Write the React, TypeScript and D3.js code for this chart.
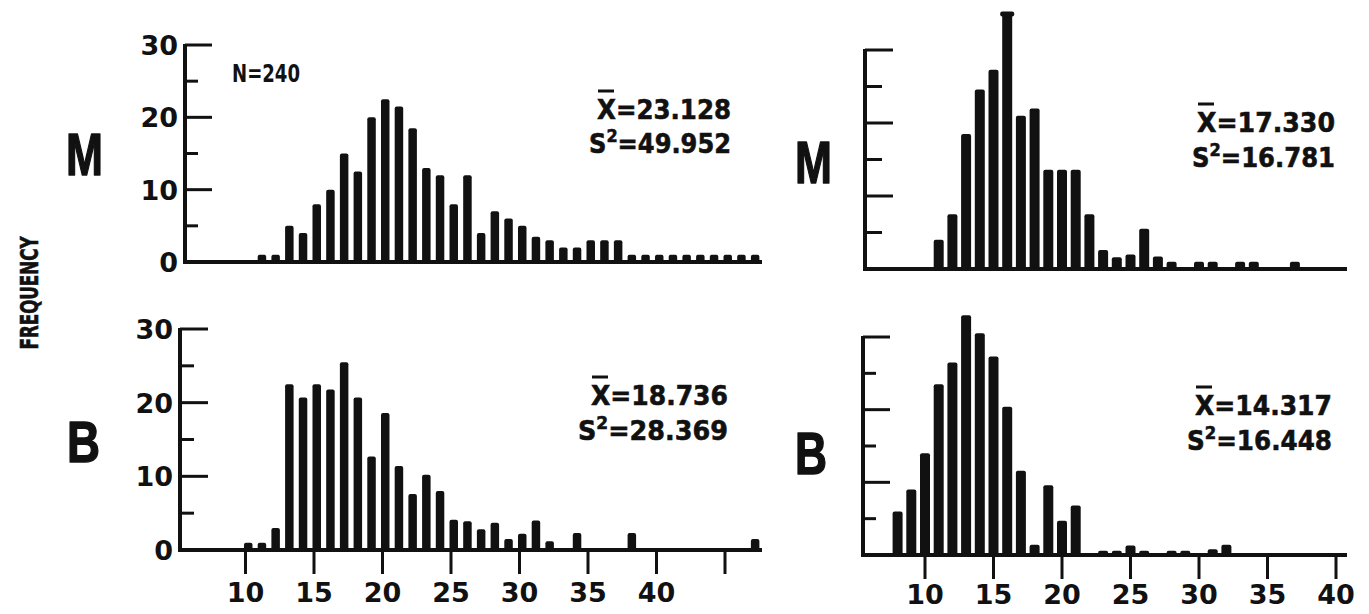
import React from "react";
import * as d3 from "d3";

const W = 1369;
const H = 614;

// ---- data (frequencies per value) ----
const mLeftFirst = 11;
const mLeftFreq = [
  1, 1, 5, 4, 8, 10, 15, 12.5, 20, 22.5,
  21.5, 18.5, 13, 12, 8, 12, 4, 7, 6, 5,
  3.5, 3, 2, 2, 3, 3, 3, 1, 1, 1,
  1, 1, 1, 1, 1, 1, 1,
];
const bLeftFirst = 10;
const bLeftFreq = [
  1, 1, 3, 22.5, 20.7, 22.5, 21.8, 25.5, 20.7, 12.7,
  18.6, 11.4, 7.6, 10.2, 8, 4.1, 3.9, 2.8, 3.7, 1.5,
  2.2, 4, 1.2, 0, 2.3, 0, 0, 0, 2.3, 0,
  0, 0, 0, 0, 0, 0, 0, 1.5,
];
const mRightFirst = 11;
const mRightFreq = [
  4, 7.5, 18.5, 24.6, 27.3, 35, 21, 22, 13.6, 13.6,
  13.6, 7.5, 2.6, 1.6, 2, 5.5, 1.7, 1, 0, 1,
  1, 0, 1, 1, 0, 0, 1,
];
const bRightFirst = 8;
const bRightFreq = [
  6, 9, 14, 23.5, 26.5, 33, 30.5, 27.3, 20.4, 11.6,
  1.4, 9.6, 4.7, 6.8, 0, 0.6, 0.6, 1.3, 0.6, 0,
  0.6, 0.6, 0, 0.8, 1.4,
];

const yTickValues = [0, 5, 10, 15, 20, 25, 30];
const yTickLabels = ["0", "10", "20", "30"];
const leftXTicks = [10, 15, 20, 25, 30, 35, 40, 45];
const leftXLabels = ["10", "15", "20", "25", "30", "35", "40"];
const rightXTicks = [10, 15, 20, 25, 30, 35, 40];
const rightXLabels = ["10", "15", "20", "25", "30", "35", "40"];

const statsTL = { mean: "23.128", variance: "49.952" };
const statsBL = { mean: "18.736", variance: "28.369" };
const statsTR = { mean: "17.330", variance: "16.781" };
const statsBR = { mean: "14.317", variance: "16.448" };

const INK = "#111";
const FONT = "'DejaVu Sans', 'Liberation Sans', sans-serif";

const xLeft = d3.scaleLinear().domain([10, 45]).range([245.5, 725]);
const xRight = d3.scaleLinear().domain([10, 40]).range([925, 1336]);

type PanelProps = {
  x: d3.ScaleLinear<number, number>;
  first: number;
  freq: number[];
  axisX: number;
  y0: number;
  y30: number;
  xEnd: number;
  barW: number;
  offset: number;
  longTick: number;
  shortTick: number;
  yLabels: boolean;
  xTicks?: number[];
  xLabels?: string[];
  labelBaseline?: number;
  capFirst?: boolean;
};

function Panel(p: PanelProps) {
  const y = d3.scaleLinear().domain([0, 30]).range([p.y0, p.y30]);
  const maxV = d3.max(p.freq) as number;
  return (
    <g>
      {p.freq.map((f, i) => {
        if (f <= 0) return null;
        const v = p.first + i;
        const cx = p.x(v + p.offset);
        const top = y(f);
        return (
          <g key={i}>
            <rect
              x={cx - p.barW / 2}
              y={top}
              width={p.barW}
              height={p.y0 - top}
              rx={2}
              fill={INK}
            />
            {p.capFirst && f === maxV && f > 30 ? (
              <rect
                x={cx - p.barW / 2 - 2}
                y={top - 2}
                width={p.barW + 4}
                height={5}
                rx={2}
                fill={INK}
              />
            ) : null}
          </g>
        );
      })}
      {/* y axis */}
      <line x1={p.axisX} x2={p.axisX} y1={p.y0 + 1.5} y2={y(30) - 1} stroke={INK} strokeWidth={4} />
      {yTickValues.slice(1).map((t) => {
        const major = t % 10 === 0;
        const len = major ? p.longTick : p.shortTick;
        return (
          <line
            key={t}
            x1={p.axisX}
            x2={p.axisX + len}
            y1={y(t)}
            y2={y(t)}
            stroke={INK}
            strokeWidth={3}
          />
        );
      })}
      {/* x axis */}
      <line x1={p.axisX - 2} x2={p.xEnd} y1={p.y0} y2={p.y0} stroke={INK} strokeWidth={4} />
      {p.yLabels
        ? yTickLabels.map((l) => (
            <text
              key={l}
              x={p.axisX - 7}
              y={y(+l) + 10}
              textAnchor="end"
              fontFamily={FONT}
              fontWeight="bold"
              fontSize={27}
              fill={INK}
            >
              {l}
            </text>
          ))
        : null}
      {p.xTicks
        ? p.xTicks.map((t) => (
            <line
              key={t}
              x1={p.x(t)}
              x2={p.x(t)}
              y1={p.y0}
              y2={p.y0 + 24}
              stroke={INK}
              strokeWidth={3}
            />
          ))
        : null}
      {p.xLabels
        ? p.xLabels.map((l) => (
            <text
              key={l}
              x={p.x(+l)}
              y={p.labelBaseline}
              textAnchor="middle"
              fontFamily={FONT}
              fontWeight="bold"
              fontSize={27}
              fill={INK}
            >
              {l}
            </text>
          ))
        : null}
    </g>
  );
}

function Stats(props: {
  x1: number;
  x2: number;
  xEnd: number;
  y1: number;
  y2: number;
  mean: string;
  variance: string;
}) {
  const { x1, x2, xEnd, y1, y2, mean, variance } = props;
  return (
    <g fontFamily={FONT} fontWeight="bold" fill={INK} stroke={INK} strokeWidth={0.6}>
      <text x={x1} y={y1} fontSize={27} textLength={xEnd - x1} lengthAdjust="spacingAndGlyphs">
        X={mean}
      </text>
      <line x1={x1 + 1} x2={x1 + 17} y1={y1 - 28} y2={y1 - 28} stroke={INK} strokeWidth={3} />
      <text x={x2} y={y2} fontSize={27} textLength={xEnd - x2} lengthAdjust="spacingAndGlyphs">
        S<tspan dy={-11} fontSize={18}>2</tspan>
        <tspan dy={11}>={variance}</tspan>
      </text>
    </g>
  );
}

function BigLetter(props: { x: number; y: number; w: number; h: number; ch: string }) {
  return (
    <text
      x={props.x}
      y={props.y + props.h}
      fontFamily="'Liberation Sans', Arial, sans-serif"
      fontWeight="bold"
      fontSize={props.h / 0.716}
      textLength={props.w}
      lengthAdjust="spacingAndGlyphs"
      fill={INK}
      stroke={INK}
      strokeWidth={1.5}
      strokeLinejoin="round"
    >
      {props.ch}
    </text>
  );
}

export default function App() {
  return (
    <svg
      width={W}
      height={H}
      style={{ display: "block", background: "#fff", position: "absolute", left: 0, top: 0 }}
    >
      <rect width={W} height={H} fill="#fff" />

      {/* FREQUENCY */}
      <text
        transform="translate(38,293) rotate(-90)"
        textAnchor="middle"
        fontFamily="'DejaVu Sans Condensed', 'DejaVu Sans', sans-serif"
        fontWeight="bold"
        fontSize={25}
        textLength={113}
        lengthAdjust="spacingAndGlyphs"
        fill={INK}
        stroke={INK}
        strokeWidth={0.6}
      >
        FREQUENCY
      </text>

      <BigLetter x={66} y={133} w={37} h={42} ch="M" />
      <BigLetter x={67} y={421} w={33} h={41} ch="B" />
      <BigLetter x={795} y={140} w={37} h={43} ch="M" />
      <BigLetter x={795} y={432} w={32} h={42} ch="B" />

      {/* N=240 */}
      <text
        x={232}
        y={82}
        fontFamily="'DejaVu Sans Condensed', 'DejaVu Sans', sans-serif"
        fontWeight="bold"
        fontSize={25}
        textLength={68}
        lengthAdjust="spacingAndGlyphs"
        fill={INK}
      >
        N=240
      </text>

      <Panel
        x={xLeft}
        first={mLeftFirst}
        freq={mLeftFreq}
        axisX={185}
        y0={262}
        y30={45}
        xEnd={762}
        barW={8.5}
        offset={0.2}
        longTick={27}
        shortTick={13}
        yLabels={true}
      />
      <Panel
        x={xLeft}
        first={bLeftFirst}
        freq={bLeftFreq}
        axisX={180}
        y0={550}
        y30={329}
        xEnd={762}
        barW={8.5}
        offset={0.2}
        longTick={28}
        shortTick={14}
        yLabels={true}
        xTicks={leftXTicks}
        xLabels={leftXLabels}
        labelBaseline={602}
      />
      <Panel
        x={xRight}
        first={mRightFirst}
        freq={mRightFreq}
        axisX={865}
        y0={269}
        y30={50}
        xEnd={1347}
        barW={10}
        offset={0}
        longTick={28}
        shortTick={17}
        yLabels={false}
        capFirst={true}
      />
      <Panel
        x={xRight}
        first={bRightFirst}
        freq={bRightFreq}
        axisX={863}
        y0={555}
        y30={337}
        xEnd={1347}
        barW={10}
        offset={0}
        longTick={27}
        shortTick={13}
        yLabels={false}
        xTicks={rightXTicks}
        xLabels={rightXLabels}
        labelBaseline={604}
      />

      <Stats x1={597} x2={589} xEnd={731} y1={119} y2={153} mean={statsTL.mean} variance={statsTL.variance} />
      <Stats x1={591} x2={578} xEnd={728} y1={405} y2={440} mean={statsBL.mean} variance={statsBL.variance} />
      <Stats x1={1197} x2={1192} xEnd={1335} y1={132} y2={167} mean={statsTR.mean} variance={statsTR.variance} />
      <Stats x1={1195} x2={1187} xEnd={1332} y1={415} y2={450} mean={statsBR.mean} variance={statsBR.variance} />
    </svg>
  );
}
